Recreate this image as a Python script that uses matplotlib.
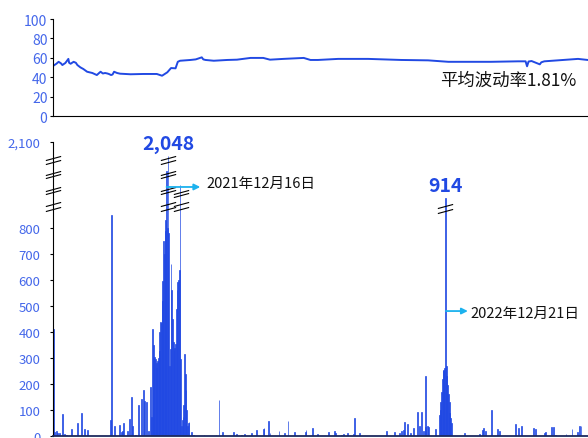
import numpy as np
import pandas as pd
import matplotlib
matplotlib.use('Agg')
import matplotlib.pyplot as plt

plt.rcParams['font.family'] = ['Noto Sans CJK SC', 'DejaVu Sans']

# 数据
start = pd.Timestamp('2021-07-16')

# 每日数量 (从起始日算起的天数, 数值)
bar_day = [0, 2, 4, 6, 8, 12, 15, 17, 24, 32, 37, 42, 45,
           76, 78, 82, 88, 91, 92, 94, 99, 102, 104, 106, 109,
           114, 117, 120, 122, 124, 127, 129, 131, 132, 133, 134, 135, 136, 137, 138, 139, 140,
           141, 142, 143, 144, 145, 146, 147, 148, 149, 150, 151, 152, 153, 154, 155, 156,
           157, 158, 159, 160, 161, 162, 163, 164, 165, 166, 167, 168, 169, 170, 171, 172,
           173, 174, 175, 176, 177, 178, 179, 180, 181, 184, 187,
           201, 217, 221, 226, 240, 244, 251, 255, 264, 271, 280, 281, 287, 289, 301, 308,
           313, 322, 336, 337, 346, 352, 367, 375, 377, 384, 387, 392, 400, 402, 408,
           445, 455, 462, 465, 467, 469, 472, 476, 481, 486, 488, 491, 494, 496, 497, 499,
           501, 510, 515, 516, 517, 518, 519, 520, 521, 522, 523, 524, 525, 526, 527, 528,
           529, 530, 531, 548, 568, 572, 574, 577, 584, 592, 595, 617, 620, 624, 641, 643,
           655, 657, 665, 667, 670, 684, 692, 699, 702, 704]
bar_value = [410, 15, 18, 12, 10, 85, 8, 5, 27, 50, 88, 27, 22,
             60, 850, 37, 42, 15, 20, 50, 20, 65, 150, 38, 5,
             120, 142, 177, 135, 132, 20, 188, 75, 410, 350, 300, 303, 295, 262, 280, 290, 300,
             327, 400, 438, 434, 520, 596, 750, 700, 790, 830, 1887, 800, 2048, 780, 270, 335,
             662, 560, 450, 360, 330, 340, 355, 490, 560, 592, 600, 640, 1362, 295, 38, 60,
             72, 120, 315, 240, 177, 100, 40, 50, 55, 15, 5,
             5, 5, 140, 15, 15, 8, 3, 8, 12, 24, 27, 31, 56, 10, 18, 10,
             56, 14, 14, 24, 31, 6, 14, 18, 12, 5, 6, 10, 6, 68, 12,
             18, 14, 10, 20, 23, 53, 46, 10, 31, 94, 37, 91, 19, 232, 33, 37,
             35, 27, 82, 100, 130, 170, 219, 255, 250, 262, 914, 268, 230, 196, 160, 129,
             90, 70, 50, 12, 6, 24, 29, 19, 99, 27, 19, 46, 29, 37, 29, 27,
             12, 14, 33, 33, 5, 8, 27, 17, 37, 40]

# 波动率曲线
line_day = [0, 4, 7, 10, 12, 16, 20, 21, 23, 27, 30, 32, 36, 40, 45, 52, 58, 61, 63, 66,
            69, 72, 74, 77, 79, 81, 85, 89, 103, 120, 138, 145, 152, 157, 163, 166, 169,
            183, 190, 198, 200, 203, 214, 232, 245, 263, 280, 289, 307, 334, 343, 353, 380,
            420, 464, 500, 527, 553, 584, 620, 630, 632, 634, 638, 649, 651, 655, 673, 700, 713]
line_value = [52, 54, 56, 54.5, 52.7, 54.8, 59, 55, 54, 56, 55, 52.7, 50.3, 48.6, 45.8,
              44.5, 42.4, 44.5, 45.8, 44, 44.5, 44, 43.5, 42.4, 43, 45.8, 44.5, 43.8, 43.2,
              43.5, 43.5, 41.7, 45.2, 49.6, 49.3, 56, 57.1, 57.9, 58.5, 60.6, 58.5, 57.9, 57.1,
              57.9, 58.2, 60, 60, 58.2, 59, 60, 57.9, 57.9, 59, 59, 57.9, 57.5, 56, 56, 56,
              56.5, 56.5, 51.4, 56.3, 56.8, 53.4, 55.5, 56.5, 57.5, 59, 57.9]

peak_days = [153, 523]
peak_labels = ['2021年12月16日', '2022年12月21日']
avg_text = '平均波动率1.81%'

y_ticks = [0, 100, 200, 300, 400, 500, 600, 700, 800, 2100]

blue = '#2149e3'
tick_blue = '#4467ea'
arrow_c = '#1cb2ee'

bar_dates = start + pd.to_timedelta(bar_day, unit='D')
line_dates = start + pd.to_timedelta(line_day, unit='D')
x0 = start - pd.Timedelta(days=0.5)
x1 = start + pd.Timedelta(days=713.3)

# 截断的纵轴: 920 以上压缩
y_in = [-1e5, 0, 920, 2000, 2100, 1e5]
y_out = [-1e5, 0, 920, 1030.8, 1130.8, 1130.8 + 1e5 - 2100]


def fwd(v):
    return np.interp(v, y_in, y_out)


def inv(v):
    return np.interp(v, y_out, y_in)


fig = plt.figure(figsize=(5.88, 4.39), dpi=100)
ax_top = fig.add_axes([53 / 588, 1 - 117.3 / 439, 535 / 588, 97.3 / 439])
ax = fig.add_axes([53 / 588, 2 / 439, 535 / 588, 294 / 439])

# 上图
ax_top.plot(line_dates, line_value, color=blue, lw=1.4)
ax_top.set_xlim(x0, x1)
ax_top.set_ylim(0, 100)
ax_top.set_yticks([0, 20, 40, 60, 80, 100])
ax_top.tick_params(axis='y', labelcolor=tick_blue, labelsize=10, length=2.5, pad=1.5)
ax_top.tick_params(axis='x', bottom=False, labelbottom=False)
for s in ['top', 'right']:
    ax_top.spines[s].set_visible(False)
ax_top.text(0.979, 0.376, avg_text, transform=ax_top.transAxes, ha='right', va='center',
            fontsize=12.5, color='#111111')

# 下图
ax.set_yscale('function', functions=(fwd, inv))
ax.bar(bar_dates, bar_value, width=1.2, color=blue, edgecolor=blue, lw=0.5)
ax.set_xlim(x0, x1)
ax.set_ylim(0, 2100)
ax.set_yticks(y_ticks)
ax.set_yticklabels(['{:,}'.format(t) for t in y_ticks])
ax.minorticks_off()
ax.tick_params(axis='y', labelcolor=tick_blue, labelsize=9.5, length=2.5, pad=6.5)
ax.tick_params(axis='x', bottom=False, labelbottom=False)
for s in ['top', 'right']:
    ax.spines[s].set_visible(False)
ax.spines['bottom'].set_color('#1d2a5e')
ax.spines['bottom'].set_linewidth(1.3)

# 截断符号
mk = dict(marker=[(-1, -0.27), (1, 0.27)], markersize=11, linestyle='none',
          color='k', mec='k', mew=0.8, clip_on=False, transform=ax.get_xaxis_transform())
spine_marks = [0.946, 0.932, 0.895, 0.884, 0.840, 0.830, 0.789, 0.772]
ax.plot([x0] * len(spine_marks), spine_marks, **mk)
d1 = start + pd.Timedelta(days=153.5)
ax.plot([d1] * len(spine_marks), spine_marks, **mk)
d2 = start + pd.Timedelta(days=170)
ax.plot([d2] * 4, [0.830, 0.820, 0.789, 0.772], **mk)
d3 = start + pd.Timedelta(days=523)
ax.plot([d3] * 2, [0.784, 0.765], **mk)

# 峰值标注
for d, lab in zip(peak_days, peak_labels):
    dt = start + pd.Timedelta(days=d)
    v = bar_value[bar_day.index(d)]
    ax.annotate('{:,}'.format(v), xy=(dt, v), xytext=(0, 5), textcoords='offset points',
                ha='center', va='baseline', fontsize=14, fontweight='bold', color=blue)

ax.annotate('', xy=(start + pd.Timedelta(days=196), 0.847),
            xytext=(start + pd.Timedelta(days=151), 0.847),
            xycoords=('data', 'axes fraction'), textcoords=('data', 'axes fraction'),
            arrowprops=dict(arrowstyle='-|>', color=arrow_c, lw=1.3, mutation_scale=9,
                            shrinkA=0, shrinkB=0))
ax.text(start + pd.Timedelta(days=204), 0.861, peak_labels[0],
        transform=ax.get_xaxis_transform(), ha='left', va='center', fontsize=10.5, color='#111111')

ax.annotate('', xy=(start + pd.Timedelta(days=553), 0.425),
            xytext=(start + pd.Timedelta(days=523.5), 0.425),
            xycoords=('data', 'axes fraction'), textcoords=('data', 'axes fraction'),
            arrowprops=dict(arrowstyle='-|>', color=arrow_c, lw=1.3, mutation_scale=9,
                            shrinkA=0, shrinkB=0))
ax.text(start + pd.Timedelta(days=557), 0.418, peak_labels[1],
        transform=ax.get_xaxis_transform(), ha='left', va='center', fontsize=10.5, color='#111111')

fig.savefig('out.png', dpi=100)
